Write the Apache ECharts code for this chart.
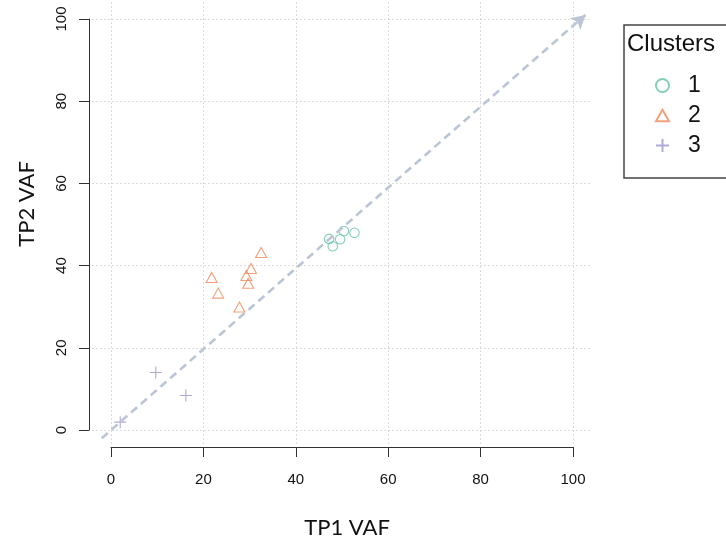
<!DOCTYPE html>
<html>
<head>
<meta charset="utf-8">
<script src="https://cdn.jsdelivr.net/npm/echarts@6/dist/echarts.min.js"></script>
<style>html,body{margin:0;padding:0;background:#fff}#c{width:726px;height:546px}</style>
</head>
<body>
<div id="c"></div>
<script>
// ---- data ----
var cluster1X = [47.2, 48.0, 49.6, 50.4, 52.7];
var cluster1Y = [46.5, 44.7, 46.4, 48.4, 48.0];
var cluster2X = [32.5, 30.3, 29.3, 29.7, 21.8, 23.2, 27.8];
var cluster2Y = [43.2, 39.3, 37.6, 35.7, 37.1, 33.3, 29.9];
var cluster3X = [9.7, 16.2, 2.0];
var cluster3Y = [14.0, 8.4, 1.9];
var clusterNames = ['1', '2', '3'];
var tickValues = [0, 20, 40, 60, 80, 100];
var diagStart = [-2, -2];
var diagEnd = [102.7, 101];

function pts(xs, ys) { return xs.map(function (x, i) { return [x, ys[i]]; }); }

var colors = ['#66c2a5', '#ee8b5b', '#9a97cc'];
var tri = 'path://M5,0L10,8.66L0,8.66Z';
var cross = 'path://M0,5L10,5M5,0L5,10';

var chart = echarts.init(document.getElementById('c'), null, {renderer: 'canvas'});
var option = {
  animation: false,
  backgroundColor: '#fff',
  grid: [
    {left: 92.5, top: 2.6, width: 499, height: 443.8, containLabel: false},
    {left: 111, top: 19, width: 462, height: 411, containLabel: false}
  ],
  xAxis: [
    {gridIndex: 0, type: 'value', min: -4, max: 104,
     axisLine: {show: false}, axisLabel: {show: false},
     axisTick: {show: false, customValues: tickValues},
     splitLine: {show: true, lineStyle: {color: '#bbbbbb', type: [1, 3], width: 1}}},
    {gridIndex: 1, type: 'value', min: 0, max: 100, interval: 20, offset: 17, position: 'bottom',
     axisLine: {show: true, onZero: false, lineStyle: {color: '#333', width: 1}},
     axisTick: {show: true, length: 10, inside: false, lineStyle: {color: '#333'}},
     axisLabel: {color: '#111', fontSize: 15, fontFamily: 'Liberation Sans', margin: 25},
     splitLine: {show: false}}
  ],
  yAxis: [
    {gridIndex: 0, type: 'value', min: -4, max: 104,
     axisLine: {show: false}, axisLabel: {show: false},
     axisTick: {show: false, customValues: tickValues},
     splitLine: {show: true, lineStyle: {color: '#bbbbbb', type: [1, 3], width: 1}}},
    {gridIndex: 1, type: 'value', min: 0, max: 100, interval: 20, offset: 22, position: 'left',
     axisLine: {show: true, onZero: false, lineStyle: {color: '#333', width: 1}},
     axisTick: {show: true, length: 10, inside: false, lineStyle: {color: '#333'}},
     axisLabel: {color: '#111', fontSize: 15, fontFamily: 'Liberation Sans', margin: 20, rotate: 90},
     splitLine: {show: false}}
  ],
  legend: {
    orient: 'vertical', left: 655, top: 74, padding: 0, itemWidth: 13, itemHeight: 13, itemGap: 7,
    textStyle: {fontSize: 23, fontFamily: 'Liberation Sans', color: '#111', padding: [0, 0, 0, 14]},
    data: clusterNames,
    selectedMode: false
  },
  graphic: [
    {type: 'rect', left: 621.5, top: 22.5, shape: {width: 120, height: 153},
     style: {fill: 'none', stroke: '#444', lineWidth: 1.5}, z: 1},
    {type: 'text', left: 627, top: 32, style: {text: 'Clusters', font: '24px "Liberation Sans"', fill: '#111'}},
    {type: 'text', x: 347, y: 528, style: {text: 'TP1 VAF', font: '22px Lato', fill: '#111', align: 'center', verticalAlign: 'middle'}},
    {type: 'text', x: 27, y: 204, rotation: Math.PI / 2, style: {text: 'TP2 VAF', font: '22px Lato', fill: '#111', align: 'center', verticalAlign: 'middle'}}
  ],
  series: [
    {name: clusterNames[0], type: 'scatter', xAxisIndex: 0, yAxisIndex: 0, data: pts(cluster1X, cluster1Y),
     symbol: 'circle', symbolSize: 9.5,
     itemStyle: {color: 'rgba(0,0,0,0)', borderColor: colors[0], borderWidth: 1.1},
     z: 3,
     markLine: {
       silent: true, symbol: ['none', 'arrow'], symbolSize: [12, 14],
       label: {show: false},
       lineStyle: {color: '#bcc5d6', type: [8, 5], width: 2.6},
       data: [[{coord: diagStart}, {coord: diagEnd}]]
     }},
    {name: clusterNames[1], type: 'scatter', xAxisIndex: 0, yAxisIndex: 0, data: pts(cluster2X, cluster2Y),
     symbol: tri, symbolSize: [11, 10],
     itemStyle: {color: 'rgba(0,0,0,0)', borderColor: colors[1], borderWidth: 1.1}, z: 3},
    {name: clusterNames[2], type: 'scatter', xAxisIndex: 0, yAxisIndex: 0, data: pts(cluster3X, cluster3Y),
     symbol: cross, symbolSize: 12,
     itemStyle: {color: 'rgba(0,0,0,0)', borderColor: colors[2], borderWidth: 1.1}, z: 3}
  ]
};
chart.setOption(option);
</script>
</body>
</html>
